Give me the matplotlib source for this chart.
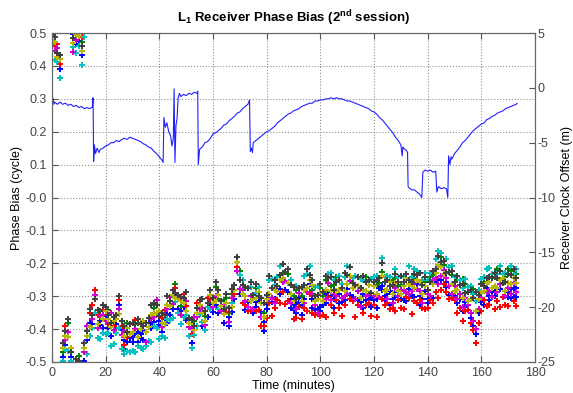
import matplotlib
matplotlib.use('Agg')
import matplotlib.pyplot as plt
from matplotlib.ticker import FormatStrFormatter
import numpy as np

plt.rcParams['font.family'] = ['Liberation Sans', 'DejaVu Sans']
plt.rcParams['axes.unicode_minus'] = False
plt.rcParams['mathtext.fontset'] = 'custom'
plt.rcParams['mathtext.rm'] = 'Liberation Sans'
plt.rcParams['mathtext.bf'] = 'Liberation Sans:bold'

# time of each phase bias epoch (minutes)
minutes = list(range(174))

# centre of the phase bias cloud (cycle, before wrapping into [-0.5, 0.5))
centre = [
    -0.52, -0.54, -0.56, -0.58, -0.47, -0.42, -0.41, -0.47, -0.53, -0.52,
    -0.51, -0.54, -0.47, -0.42, -0.38, -0.37, -0.31, -0.37, -0.36, -0.37,
    -0.36, -0.37, -0.38, -0.39, -0.37, -0.34, -0.39, -0.42, -0.41, -0.40,
    -0.41, -0.40, -0.41, -0.40, -0.39, -0.41, -0.38, -0.37, -0.35, -0.34,
    -0.36, -0.38, -0.37, -0.34, -0.33, -0.31, -0.29, -0.31, -0.33, -0.32,
    -0.33, -0.38, -0.40, -0.39, -0.35, -0.34, -0.35, -0.36, -0.32, -0.31,
    -0.32, -0.30, -0.31, -0.33, -0.34, -0.32, -0.35, -0.32, -0.28, -0.21,
    -0.25, -0.28, -0.30, -0.29, -0.30, -0.31, -0.29, -0.30, -0.32, -0.35,
    -0.31, -0.28, -0.29, -0.28, -0.27, -0.25, -0.23, -0.24, -0.26, -0.28,
    -0.30, -0.31, -0.29, -0.30, -0.28, -0.26, -0.25, -0.28, -0.30, -0.31,
    -0.29, -0.30, -0.28, -0.26, -0.27, -0.28, -0.27, -0.28, -0.29, -0.27,
    -0.25, -0.24, -0.26, -0.28, -0.27, -0.29, -0.28, -0.27, -0.28, -0.29,
    -0.27, -0.28, -0.26, -0.24, -0.27, -0.28, -0.27, -0.28, -0.26, -0.27,
    -0.28, -0.27, -0.26, -0.25, -0.27, -0.26, -0.25, -0.27, -0.28, -0.27,
    -0.28, -0.27, -0.25, -0.23, -0.22, -0.21, -0.22, -0.23, -0.24, -0.25,
    -0.27, -0.28, -0.28, -0.29, -0.29, -0.30, -0.31, -0.32, -0.33, -0.31,
    -0.29, -0.27, -0.26, -0.27, -0.26, -0.27, -0.26, -0.25, -0.26, -0.27,
    -0.26, -0.25, -0.26, -0.26,
]

# per-satellite deviation from the centre, in steps of DEV_UNIT cycle
DEV_UNIT = 0.014
dev_blue = [
    0, -1, 1, 0, -1, -2, 0, -1, 1, 0, -1, 0, -2, -1, 0, -1, 1, -1, -2, 0,
    -1, -2, 0, -1, -2, 0, -1, -3, -2, -1, -2, -1, 0, -2, -1, -2, 0, -1, -2, -1,
    -1, -2, 0, -1, -2, -1, 0, -2, -1, -3, -2, -1, -3, -2, -1, 0, -2, -1, -3, -2,
    -1, -2, 0, -1, -3, -2, -1, -2, 0, -1, -2, -1, -3, -2, -1, -3, -2, -1, -3, -2,
    -2, -3, -1, -2, -3, -2, -1, -3, -2, -4, -2, -3, -1, -2, -3, -2, -1, -2, -3, -2,
    -3, -2, -1, -3, -2, -2, -3, -1, -2, -3, -2, -1, -3, -2, -3, -2, -1, -3, -2, -1,
    -3, -2, -1, -2, -3, -2, -1, -3, -2, -3, -2, -1, -3, -2, -1, -3, -2, -2, -3, -1,
    -2, -3, -1, -2, -3, -2, -1, -3, -2, -1, -2, -3, -2, -4, -3, -2, -3, -4, -6, -3,
    -2, -3, -1, -2, -3, -2, -4, -2, -3, -2, -3, -2, -1, -3,
]
dev_green = [
    1, 0, 2, 1, 0, 1, 2, 0, 1, 0, 2, 1, 0, 1, 2, 0, 1, 2, 1, 0,
    1, 2, 0, 1, 0, 2, 1, 0, 2, 1, 0, 1, 2, 0, 1, 2, 1, 0, 1, 2,
    1, 0, 2, 1, 0, 1, 2, 1, 0, 2, 0, 1, 2, 1, 0, 2, 1, 0, 1, 2,
    1, 2, 0, 1, 2, 1, 0, 2, 1, 0, 2, 1, 0, 1, 2, 0, 1, 2, 1, 0,
    1, 2, 1, 0, 2, 1, 0, 1, 2, 1, 0, 2, 1, 0, 1, 2, 1, 0, 2, 1,
    1, 0, 2, 1, 0, 1, 2, 0, 1, 2, 1, 2, 0, 1, 2, 1, 0, 2, 1, 0,
    2, 1, 0, 1, 2, 0, 1, 2, 1, 0, 1, 2, 1, 0, 2, 1, 0, 1, 2, 1,
    0, 2, 1, 0, 1, 2, 1, 0, 2, 1, 1, 2, 1, 3, 2, 1, 2, 3, 1, 2,
    2, 1, 3, 2, 1, 2, 3, 2, 1, 2, 3, 2, 1, 2,
]
dev_red = [
    1, 0, 2, -1, 1, 2, 0, 1, -1, 0, 1, 2, 0, 1, 2, 3, 2, 1, 0, 2,
    1, -1, 2, 0, 1, 2, 0, -2, -1, 1, 0, 2, -1, 1, 0, 2, 1, 0, 2, 1,
    0, 1, 2, 0, 1, 2, 1, 0, 1, 2, 0, 1, -1, 0, 2, 1, 0, -1, 1, 0,
    -1, 0, 1, -1, 0, -2, 1, 0, -1, 0, -2, -3, -2, -4, -3, -2, -4, -3, -5, -3,
    -4, -3, -5, -4, -3, -5, -4, -6, -4, -3, -5, -4, -3, -5, -4, -6, -3, -5, -4, -3,
    -5, -4, -6, -3, -4, -5, -3, -4, -5, -4, -3, -5, -4, -6, -4, -3, -5, -4, -3, -5,
    -4, -6, -3, -5, -4, -3, -5, -4, -6, -3, -4, -5, -3, -4, -6, -4, -5, -3, -4, -5,
    -4, -3, -5, -4, -6, -5, -3, -4, -5, -4, -3, -5, -4, -6, -4, -3, -5, -6, -8, -5,
    -4, -3, -5, -4, -3, -5, -4, -6, -3, -4, -5, -3, -4, -5,
]
dev_cyan = [
    -1, -3, -2, -4, -2, -3, -4, -2, -1, -3, -2, -4, -3, -4, -3, -2, -3, -4, -5, -3,
    -4, -3, -5, -4, -3, -4, -5, -4, -4, -5, -4, -5, -3, -4, -5, -3, -4, -5, -3, -4,
    -5, -3, -4, -2, -3, -4, -2, -3, -4, -3, -2, -3, -4, -2, -3, -1, -2, -3, -1, -2,
    -1, 0, -2, -1, 0, -1, 1, 0, 1, 2, 1, 2, 0, 1, 2, 1, 0, 2, 1, 2,
    1, 2, 3, 1, 2, 3, 2, 1, 3, 2, 2, 3, 1, 2, 3, 2, 3, 1, 2, 3,
    2, 1, 3, 2, 3, 2, 1, 3, 2, 2, 3, 2, 1, 3, 2, 3, 2, 1, 2, 3,
    2, 3, 1, 4, 2, 3, 2, 1, 3, 2, 3, 2, 1, 3, 2, 3, 2, 1, 2, 3,
    2, 3, 2, 3, 4, 3, 2, 3, 2, 3, 2, 3, 2, 1, 3, 2, 3, 2, 1, 2,
    3, 2, 3, 4, 2, 3, 2, 3, 2, 3, 2, 3, 2, 3,
]
dev_magenta = [
    0, -1, 1, 0, 2, -1, 0, 1, -2, 0, 1, -1, 0, 2, -1, 0, 1, -2, 0, 1,
    -1, 0, 2, -1, 1, 0, -2, 1, 0, -1, 2, 0, -1, 1, 0, -2, 1, 0, -1, 2,
    0, -1, 1, 0, 2, -1, 0, 1, -2, 0, 1, -1, 0, 2, -1, 0, 1, -2, 0, 1,
    -1, 0, 2, -1, 1, 0, -2, 1, 0, -1, -2, 0, -1, -3, 0, -2, -1, 0, -3, -1,
    0, -2, -1, -3, -1, 0, -2, -1, 0, -3, -1, -2, 0, -1, -3, -2, 0, -1, -2, -3,
    0, -1, -2, 0, -3, -1, -2, 0, -1, -2, -3, -1, 0, -2, -1, -3, 0, -2, -1, 0,
    -2, -1, -3, 0, -1, -2, 0, -3, -1, -2, 0, -1, -2, -3, -1, 0, -2, -1, -3, 0,
    -1, -2, 0, -1, -3, -2, 0, -1, -2, -3, 0, -2, -1, -3, -1, -2, -3, -4, -5, -2,
    -1, 0, -2, -1, -3, 0, -2, -1, 0, -2, -1, -3, 0, -2,
]
dev_yellow = [
    0, 1, -1, 0, 1, 0, -1, 1, 0, 1, 0, -1, 1, 0, -1, 1, 0, -1, 1, 0,
    1, 0, -1, 1, 0, -1, 1, 0, 1, -1, 0, 1, -1, 0, 1, 0, -1, 1, 0, -1,
    1, 0, -1, 1, 0, 1, -1, 0, 1, 0, -1, 0, 1, -1, 0, 1, 0, -1, 0, 1,
    0, -1, 1, 0, -1, 0, 1, -1, 0, 1, 0, -1, 0, 1, -1, 0, -1, 1, 0, -1,
    0, -1, 1, 0, -1, 0, -1, 1, 0, -1, -1, 0, 1, -1, 0, -1, 0, 1, -1, 0,
    0, -1, 0, 1, -1, 0, -1, 0, 1, -1, -1, 0, -1, 1, 0, -1, 0, -1, 1, 0,
    0, -1, 1, 0, -1, 0, 1, -1, 0, -1, -1, 0, 1, -1, 0, -1, 0, 1, -1, 0,
    0, 1, -1, 0, 1, 0, -1, 0, 1, -1, -1, 0, 1, -1, 0, -1, 0, 1, -1, 0,
    0, -1, 0, 1, -1, 0, -1, 0, 1, -1, 0, -1, 1, 0,
]
dev_black = [
    1, 2, 0, 1, 2, 1, 3, 0, 1, 2, 1, 0, 2, 1, 3, 1, 0, 2, 1, 3,
    2, 1, 0, 2, 1, 3, 1, 2, 0, 1, 2, 1, 3, 1, 0, 2, 1, 3, 2, 1,
    0, 2, 1, 3, 1, 2, 0, 1, 2, 1, 3, 1, 2, 0, 1, 2, 3, 1, 0, 2,
    1, 3, 2, 1, 0, 2, 1, 3, 1, 2, 0, 1, 2, 1, 3, 1, 2, 0, 1, 2,
    1, 3, 1, 2, 0, 1, 2, 1, 3, 1, 2, 0, 1, 2, 1, 3, 1, 2, 0, 1,
    2, 1, 3, 1, 2, 0, 1, 2, 1, 3, 1, 2, 0, 1, 2, 1, 3, 1, 2, 0,
    1, 2, 1, 3, 1, 2, 0, 1, 2, 1, 3, 1, 2, 0, 1, 2, 1, 3, 1, 2,
    0, 1, 2, 1, 3, 1, 2, 0, 1, 2, 1, 3, 1, 2, 0, 1, 2, 1, 3, 1,
    2, 0, 1, 2, 1, 3, 1, 2, 0, 1, 2, 1, 3, 1,
]
dev_blue2 = [
    1, -1, 0, -2, 1, 0, -1, 0, 2, -1, 0, -2, 1, 0, -1, -2, 0, 1, -1, -2,
    0, -1, -3, 0, -1, 1, -2, -1, 0, -2, -1, 0, -2, -1, -3, 0, -1, -2, 0, -1,
    -2, 0, -1, -3, 0, -2, -1, 0, -2, -1, -3, 0, -1, -2, 0, -1, -3, -2, 0, -1,
    -2, -1, -3, 0, -1, -2, -3, 0, -2, -1, -3, -1, -2, -4, -1, -2, -3, -1, -2, -4,
    -1, -3, -2, -4, -1, -3, -2, -1, -4, -2, -3, -1, -2, -4, -2, -1, -3, -4, -1, -2,
    -4, -1, -3, -2, -1, -4, -2, -3, -1, -2, -3, -4, -1, -2, -3, -1, -4, -2, -1, -3,
    -2, -4, -1, -3, -2, -1, -4, -2, -3, -1, -2, -3, -4, -1, -2, -3, -1, -4, -2, -1,
    -3, -2, -4, -1, -2, -3, -1, -2, -4, -3, -1, -2, -4, -3, -2, -1, -4, -5, -6, -3,
    -2, -4, -1, -3, -2, -1, -4, -2, -3, -1, -2, -4, -3, -1,
]

# drawing order, last one ends up on top
sat_devs = [dev_blue2, dev_blue, dev_green, dev_red, dev_cyan, dev_magenta,
            dev_yellow, dev_black]
sat_colors = ['#0000ff', '#0000ff', '#008000', '#ff0000', '#00c0c0', '#d000d0',
              '#b8b800', '#404040']

# receiver clock offset (m)
clock_t = [
    0, 0.3, 0.7, 1, 2, 3, 4, 5, 6, 7, 8, 9, 10, 11, 12, 13, 14, 15, 15.3, 15.5,
    15.8, 16.2, 16.8, 17.5, 18, 19, 20, 21, 22, 23, 24, 25, 26, 27, 28, 29, 30, 31, 32, 33,
    34, 35, 36, 37, 38, 39, 40, 41, 41.4, 41.7, 42.2, 42.8, 43.5, 44.2, 44.7, 45.2, 45.5, 45.8, 46.2, 46.6,
    47.0, 47.5, 48, 49, 50, 51, 52, 53, 54, 54.3, 54.5, 55, 56, 57, 58, 59, 60, 61, 62, 63,
    64, 65, 66, 67, 68, 69, 70, 71, 72, 73, 73.6, 73.9, 74.3, 74.7, 75, 76, 77, 78, 79, 80,
    81, 82, 83, 84, 85, 86, 87, 88, 89, 90, 91, 92, 93, 94, 95, 96, 97, 98, 99, 100,
    101, 102, 103, 104, 105, 106, 107, 108, 109, 110, 111, 112, 113, 114, 115, 116, 117, 118, 119, 120,
    121, 122, 123, 124, 125, 126, 127, 128, 129, 130, 130.5, 130.8, 131, 132, 132.5, 132.7, 133, 134, 135, 136,
    137, 137.8, 138.2, 139, 140, 141, 142, 143, 143.4, 144, 145, 146, 147, 147.5, 147.8, 148.3, 148.7, 149, 150, 151,
    152, 153, 154, 155, 156, 157, 158, 159, 160, 161, 162, 163, 164, 165, 166, 167, 168, 169, 170, 171,
    172, 173, 173.3,
]
clock_m = [
    -1.3, -0.9, -1.5, -1.3, -1.5, -1.3, -1.5, -1.4, -1.6, -1.5, -1.7, -1.6, -1.8, -1.7, -1.9, -1.8, -1.9, -1.75, -0.9, -6.7,
    -5.2, -6.0, -5.5, -5.9, -5.6, -5.5, -5.3, -5.2, -5.0, -5.0, -4.8, -4.9, -4.7, -4.6, -4.7, -4.5, -4.6, -4.7, -4.8, -4.9,
    -5.1, -5.2, -5.4, -5.5, -5.8, -6.0, -6.3, -6.6, -6.8, -2.7, -3.6, -3.2, -4.0, -4.4, -5.3, -4.6, -0.1, -6.8, -3.4, -2.8,
    -0.9, -0.5, -0.8, -0.6, -0.7, -0.5, -0.6, -0.4, -0.5, -0.3, -7.0, -5.6, -5.4, -5.0, -4.9, -4.6, -4.2, -4.1, -3.9, -3.7,
    -3.4, -3.3, -3.0, -2.8, -2.6, -2.3, -2.2, -1.9, -1.7, -1.5, -1.1, -5.8, -5.5, -5.9, -5.0, -4.8, -4.6, -4.4, -4.2, -4.0,
    -3.9, -3.7, -3.5, -3.2, -3.0, -2.8, -2.6, -2.4, -2.3, -2.1, -2.0, -1.9, -1.7, -1.6, -1.5, -1.4, -1.4, -1.2, -1.2, -1.1,
    -1.1, -1.0, -1.0, -0.9, -1.0, -0.9, -1.0, -1.0, -1.1, -1.2, -1.2, -1.3, -1.4, -1.5, -1.6, -1.7, -1.8, -1.9, -2.1, -2.2,
    -2.4, -2.7, -2.9, -3.2, -3.5, -3.8, -4.1, -4.5, -4.8, -5.2, -6.2, -5.4, -5.5, -5.7, -5.9, -9.0, -9.1, -9.3, -9.3, -9.5,
    -9.7, -10.0, -7.7, -7.5, -7.6, -7.5, -7.7, -7.6, -9.5, -9.0, -9.2, -9.1, -9.2, -10.0, -6.2, -7.0, -6.3, -6.5, -6.0, -5.7,
    -5.4, -5.0, -4.8, -4.5, -4.2, -3.9, -3.7, -3.5, -3.3, -3.2, -2.9, -2.8, -2.6, -2.5, -2.3, -2.2, -2.1, -1.9, -1.8, -1.7,
    -1.6, -1.5, -1.4,
]

fig = plt.figure(figsize=(5.73, 3.93), dpi=100)
ax = fig.add_axes([0.0908, 0.0789, 0.8429, 0.8371])

t = np.array(minutes)
base = np.array(centre)
for dev, col in zip(sat_devs, sat_colors):
    vals = base + np.array(dev) * DEV_UNIT
    vals = (vals + 0.5) % 1.0 - 0.5   # phase bias wraps into one cycle
    ax.plot(t, vals, linestyle='None', marker='+', markersize=3.8,
            markeredgewidth=1.4, color=col)

ax.set_xlim(0, 180)
ax.set_ylim(-0.5, 0.5)
ax.set_xticks(np.arange(0, 181, 20))
ax.set_yticks(np.arange(-0.5, 0.51, 0.1))
ax.yaxis.set_major_formatter(FormatStrFormatter('%.1f'))
ax.grid(True, linestyle=':', color='#909090', linewidth=0.8)
ax.tick_params(direction='in', labelsize=9, labelcolor='#444444', color='#555555',
               top=True, length=4)
for s in ax.spines.values():
    s.set_color('#666666')
ax.set_xlabel('Time (minutes)', fontsize=9, labelpad=1)
ax.set_ylabel('Phase Bias (cycle)', fontsize=9, labelpad=2)
ax.set_title(r'L$_\mathbf{1}$ Receiver Phase Bias (2$^\mathbf{nd}$ session)', fontsize=9.5,
             fontweight='bold', pad=8)

ax2 = ax.twinx()
ax2.plot(clock_t, clock_m, color='#2020ff', linewidth=0.8)
ax2.set_ylim(-25, 5)
ax2.set_yticks(np.arange(-25, 6, 5))
ax2.tick_params(direction='in', labelsize=9, labelcolor='#444444', color='#555555',
                length=4, pad=2)
for s in ax2.spines.values():
    s.set_color('#666666')
ax2.set_ylabel('Receiver Clock Offset (m)', fontsize=9, labelpad=4)

fig.savefig('out.png', dpi=100, facecolor='white')
